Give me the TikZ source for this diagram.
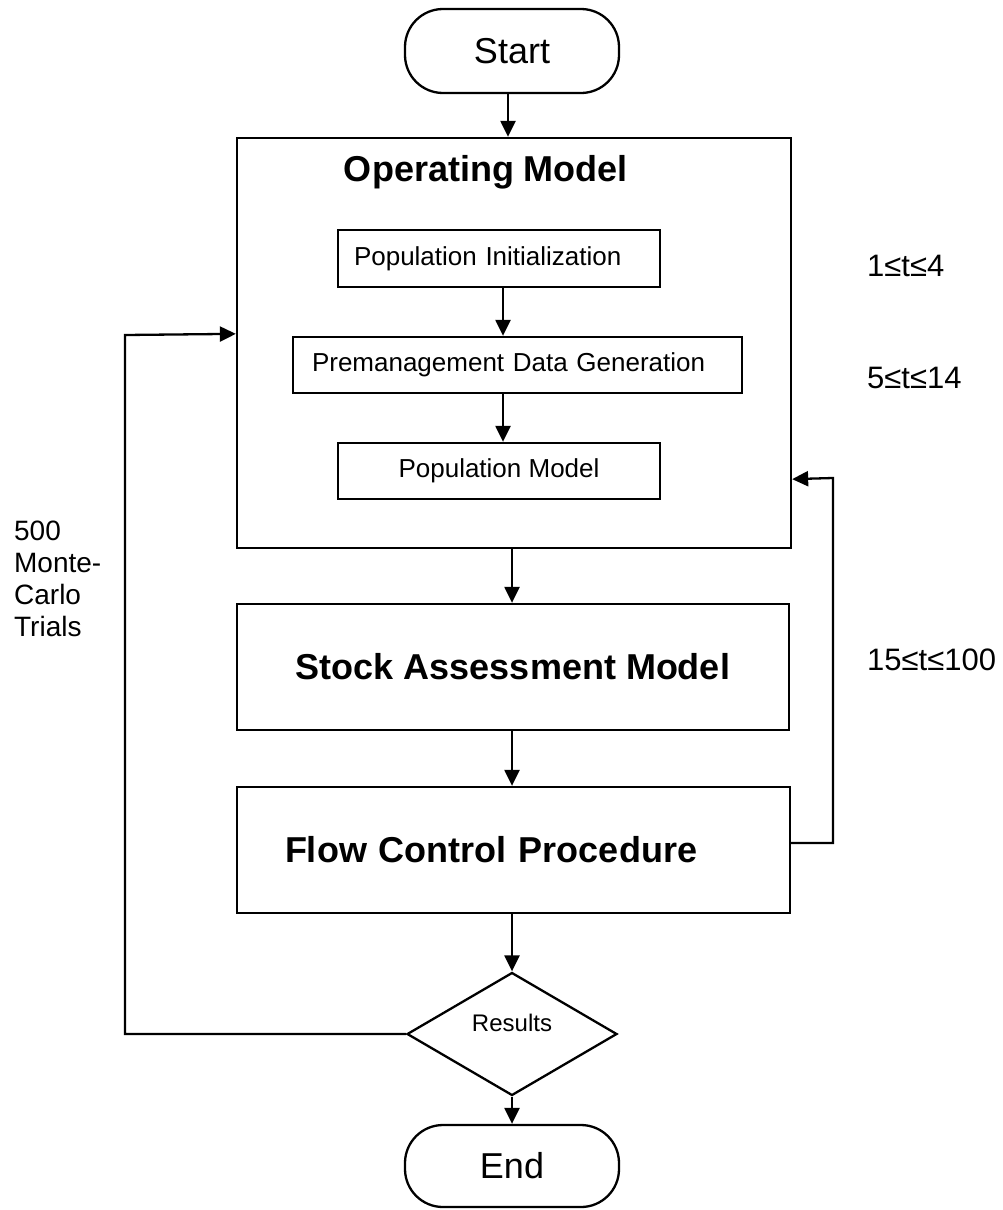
\documentclass[tikz,border=0pt]{standalone}
\usepackage{fontspec}
\setmainfont{Liberation Sans}
\usetikzlibrary{arrows.meta,shapes.geometric,calc}
\begin{document}
\begin{tikzpicture}[x=1pt,y=-1pt,
  line width=2.3pt,
  arr/.style={-{Triangle[length=16pt,width=15pt]}},
  box/.style={draw, rectangle, inner ysep=0pt},
  pill/.style={draw, rectangle, rounded corners=38pt, minimum width=214pt, inner sep=0pt, font=\fontsize{36}{40}\selectfont},
  big/.style={font=\bfseries\fontsize{36}{40}\selectfont},
  small/.style={font=\fontsize{26}{30}\selectfont},
  side/.style={font=\fontsize{31}{34}\selectfont, anchor=west, inner sep=0pt}]
\useasboundingbox (0,0) rectangle (1002,1210);
% terminals
\node[pill, minimum height=84pt] (start) at (512,51) {Start};
\node[pill, minimum height=82pt] (end) at (512,1166) {End};
% operating model
\node[box, minimum width=554pt, minimum height=410pt, inner xsep=0pt] (op) at (514,343) {};
\node[big, inner sep=0pt] (optitle) at (486,172) {Operating Model};
\node[box, small, minimum height=57pt, inner xsep=16pt, text width=290pt, align=left] (pi) at (499,258.5) {Population Initialization};
\node[box, small, minimum height=56pt, inner xsep=19pt, text width=411pt, align=left] (pdg) at (517.5,365) {Premanagement Data Generation};
\node[box, small, minimum height=56pt, minimum width=322pt] (pm) at (499,471) {Population Model};
% main boxes
\node[box, big, minimum width=552pt, minimum height=126pt] (sam) at (513,667) {Stock Assessment Model};
\node[box, big, minimum height=126pt, inner xsep=48pt, text width=457pt, align=left] (fcp) at (513.5,850) {Flow Control Procedure};
% decision
\node[draw, diamond, minimum width=210pt, minimum height=123pt, inner sep=0pt] (res) at (512,1034) {};
\node[font=\fontsize{24}{28}\selectfont, inner sep=0pt] (restext) at (512,1023) {Results};
% side labels
\node[side] (t1) at (866,266) {1≤t≤4};
\node[side] (t2) at (866,378) {5≤t≤14};
\node[side] (t3) at (866,660) {15≤t≤100};
\node[font=\fontsize{28}{32}\selectfont, align=left, anchor=north west, inner sep=0pt] (mc) at (13,520) {500\\Monte-\\Carlo\\Trials};
% helper coordinates
\coordinate (cs) at (508,0);
\coordinate (ci) at (503,0);
\coordinate (cm) at (512,0);
\coordinate (fcpout) at ($(fcp.east)+(0,-7)$);
\coordinate (rtop) at (833,478);
\coordinate (opinr) at ($(op.south east)+(0,-70)$);
\coordinate (ltop) at (125,335);
\coordinate (opinl) at ($(op.north west)+(0,197)$);
% connectors
\draw[arr] (start.south -| cs) -- (op.north -| cs);
\draw[arr] (pi.south -| ci) -- (pdg.north -| ci);
\draw[arr] (pdg.south -| ci) -- (pm.north -| ci);
\draw[arr] (op.south -| cm) -- (sam.north -| cm);
\draw[arr] (sam.south -| cm) -- (fcp.north -| cm);
\draw[arr] (fcp.south -| cm) -- (res.north);
\draw[arr] (res.south) -- (end.north);
\draw[arr] (fcpout) -| (rtop) -- (opinr);
\draw[arr] (res.west) -| (ltop) -- (opinl);
\end{tikzpicture}
\end{document}
